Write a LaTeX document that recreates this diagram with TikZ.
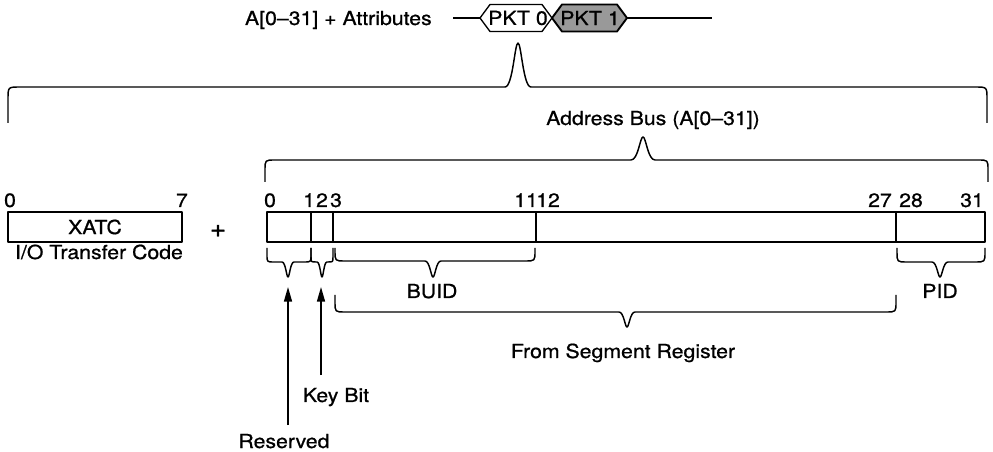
\documentclass[tikz,border=0pt]{standalone}
\usepackage{fontspec}
\setmainfont{TeX Gyre Heros}[FakeStretch=1.1, FakeBold=0.8]
\usepackage{tikz}
\usetikzlibrary{positioning,arrows.meta}
\newcommand{\fs}{\fontsize{14.5}{17}\selectfont}
\newcommand{\bitbrace}[8]{% x1, x2, xtip, yend, yline, ytip, corner, peak
  \pgfmathsetmacro{\bd}{#7*sign(#4-#5)}
  \draw[brc] (#1,#4) -- (#1,#5+\bd) .. controls (#1,#5) .. (#1+#7,#5)
    -- (#3-#8,#5) .. controls (#3-#8*0.4,#5) and (#3-#8*0.25,#6) .. (#3,#6)
    .. controls (#3+#8*0.25,#6) and (#3+#8*0.4,#5) .. (#3+#8,#5)
    -- (#2-#7,#5) .. controls (#2,#5) .. (#2,#5+\bd) -- (#2,#4);}
\tikzset{
  lbl/.style={font=\fs, inner sep=0pt, anchor=base},
  bitnum/.style={font=\fs, inner sep=0pt, anchor=base},
  field/.style={draw, line width=1.1pt, minimum height=22.5pt, inner sep=0pt,
                outer sep=0pt, anchor=west, font=\fs},
  hexpkt/.style={line width=1pt},
  brc/.style={line width=1.1pt},
  arr/.style={line width=1.2pt, -{Triangle[length=11pt,width=6pt]}},
}

\begin{document}
\begin{tikzpicture}[x=0.75pt, y=-0.75pt, line join=round]
    \useasboundingbox (0,0) rectangle (993,452);

    % --- packet bus ------------------------------------------------------
    \node[lbl, anchor=base east] (attr) at (432,25) {A[0--31] + Attributes};
    \coordinate (busL) at (453,18);
    \coordinate (busR) at (712,18);
    \coordinate (pkt0w) at (480,18);
    \coordinate (pktx) at (552,18);
    \coordinate (pkt1e) at (627,18);
    \draw[hexpkt] (pkt0w) -- (490,4.5) -- (542,4.5) -- (pktx) -- (542,31.5) -- (490,31.5) -- cycle;
    \draw[hexpkt, line width=1.4pt, fill=black!40]
      (pktx) -- (562,4.5) -- (617,4.5) -- (pkt1e) -- (617,31.5) -- (562,31.5) -- cycle;
    \node[lbl, anchor=center] (pkt0) at (518,18) {PKT 0};
    \node[lbl, anchor=center] (pkt1) at (590,18) {PKT 1};
    \draw[hexpkt] (busL) -- (pkt0w) (pkt1e) -- (busR);

    % --- upper braces ----------------------------------------------------
    \bitbrace{8}{987}{518}{123}{87}{43}{12}{13}
    \node[lbl] (addr) at (653,125) {Address Bus (A[0--31])};
    \bitbrace{265}{988}{643}{182}{160}{137}{10}{12}

    % --- XATC and address register --------------------------------------
    \node[field, anchor=center, minimum width=130.5pt] (xatc) at (95,227) {XATC};
    \node[lbl] (iotc) at (99,259) {I/O Transfer Code};
    \node[lbl, anchor=center, font=\fontsize{19}{19}\selectfont] (plus) at (218,231) {+};
    \node[field, minimum width=33pt] (rsv) at (267,227) {};
    \node[field, minimum width=16.5pt, right=0pt of rsv] (key) {};
    \node[field, minimum width=152.25pt, right=0pt of key] (buid) {};
    \node[field, minimum width=270pt, right=0pt of buid] (seg) {};
    \node[field, minimum width=66.75pt, right=0pt of seg] (pid) {};
    \foreach \x/\n [count=\i] in {10/0,182/7,270/0,309/1,322/2,336/3,526/11,548/12,880/27,911/28,972/31}
      \node[bitnum] (bit\i) at (\x,207) {\n};

    % --- lower braces ----------------------------------------------------
    \bitbrace{267}{311}{288}{248}{262}{277}{7}{6}
    \bitbrace{311}{333}{322}{248}{262}{277}{5}{5}
    \bitbrace{335}{535}{433}{248}{261}{277}{10}{8}
    \bitbrace{897}{985}{940}{248}{262}{277}{10}{8}
    \bitbrace{335}{896}{627}{295}{312}{327}{10}{8}
    \node[lbl] (buidlbl) at (432,298) {BUID};
    \node[lbl] (pidlbl) at (940,298) {PID};
    \node[lbl] (seglbl) at (623,358) {From Segment Register};

    % --- pointers --------------------------------------------------------
    \coordinate (rsvtip) at (288,287);
    \coordinate (keytip) at (321,287);
    \node[lbl] (rsvlbl) at (284,448) {Reserved};
    \node[lbl] (keylbl) at (336,402) {Key Bit};
    \draw[arr, shorten <=6.4pt] (rsvtip |- rsvlbl.north) -- (rsvtip);
    \draw[arr, shorten <=9.4pt] (keytip |- keylbl.north) -- (keytip);
\end{tikzpicture}
\end{document}
